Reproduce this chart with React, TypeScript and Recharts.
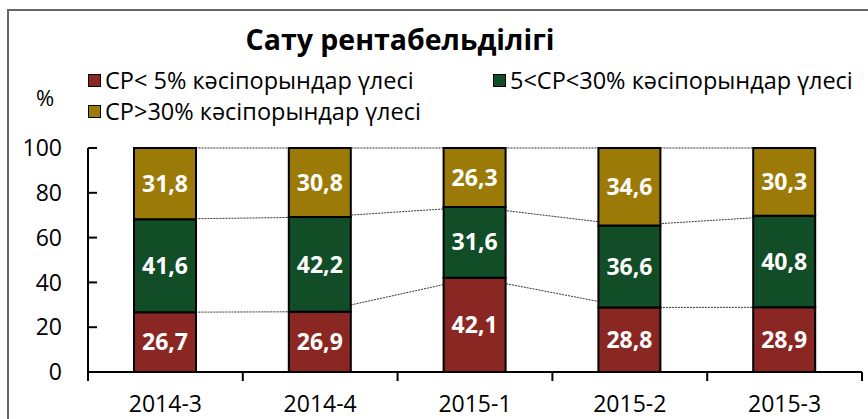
import React from 'react';
import { ComposedChart, Bar, Line, XAxis, YAxis, LabelList, Legend } from 'recharts';

const periods = ['2014-3', '2014-4', '2015-1', '2015-2', '2015-3'];
const lowShare = [26.7, 26.9, 42.1, 28.8, 28.9];
const midShare = [41.6, 42.2, 31.6, 36.6, 40.8];
const highShare = [31.8, 30.8, 26.3, 34.6, 30.3];
const yTicks = [0, 20, 40, 60, 80, 100];

const seriesNames = ['СР< 5% кәсіпорындар үлесі', '5<СР<30% кәсіпорындар үлесі', 'СР>30% кәсіпорындар үлесі'];
const colors = ['#8B2722', '#114D27', '#9C7A07'];

const FONT = '"Open Sans", "Noto Sans", sans-serif';

const data = periods.map((p, i) => ({ period: p, low: lowShare[i], mid: midShare[i], high: highShare[i] }));
const total = (d: any) => d.low + d.mid + d.high;

const fmt = (v: any) => Number(v).toFixed(1).replace('.', ',');

const YTick = ({ x, y, payload }: any) => (
  <g>
    <line x1={x + 26} x2={x + 35} y1={y} y2={y} stroke="#000" strokeWidth={2} />
    <text x={x} y={y} dy="0.36em" textAnchor="end" fontSize={23} fontFamily={FONT} fill="#000">
      {Math.round(payload.value * 100)}
    </text>
  </g>
);

const XTick = ({ x, y, payload, index }: any) => {
  const off = payload.offset || 77.4;
  return (
    <g>
      <line x1={x - off} x2={x - off} y1={y} y2={y + 9} stroke="#000" strokeWidth={2} />
      {index === periods.length - 1 && (
        <line x1={x + off} x2={x + off} y1={y} y2={y + 9} stroke="#000" strokeWidth={2} />
      )}
      <text x={x} y={y + 40} textAnchor="middle" fontSize={23} fontFamily={FONT} fill="#000">
        {payload.value}
      </text>
    </g>
  );
};

const LegendBox = () => (
  <div style={{ fontFamily: FONT, fontSize: 23.5, color: '#000', position: 'relative', height: 70 }}>
    {seriesNames.map((name, i) => (
      <div
        key={name}
        style={{
          position: 'absolute',
          left: i === 1 ? 405 : 0,
          top: i === 2 ? 32 : 1,
          display: 'flex',
          alignItems: 'center',
          whiteSpace: 'nowrap',
          lineHeight: '30px',
        }}
      >
        <span style={{ width: 11, height: 11, background: colors[i], border: '1.5px solid #000', marginRight: 4 }} />
        {name}
      </div>
    ))}
  </div>
);

export default function App() {
  return (
    <div style={{ position: 'absolute', left: 0, top: 0, width: 868, height: 419, overflow: 'hidden', background: '#fff' }}>
      <div style={{ position: 'absolute', left: 7, top: 9, width: 900, height: 500, borderLeft: '2px solid #666', borderTop: '2px solid #666' }} />
      <div style={{ position: 'absolute', left: 0, width: 800, top: 20, textAlign: 'center', fontFamily: FONT, fontWeight: 700, fontSize: 28.5, lineHeight: '38px' }}>
        Сату рентабельділігі
      </div>
      <div style={{ position: 'absolute', left: 36, top: 82, fontFamily: FONT, fontSize: 22 }}>%</div>
      <ComposedChart
        width={868}
        height={419}
        data={data}
        stackOffset="expand"
        margin={{ top: 148, right: 6, bottom: 0, left: 0 }}
        style={{ position: 'absolute', left: 0, top: 0 }}
      >
        <XAxis dataKey="period" height={47} tickSize={0} tickMargin={0} interval={0} tick={<XTick />} tickLine={false} axisLine={{ stroke: '#000', strokeWidth: 2 }} />
        <YAxis type="number" domain={[0, 1]} ticks={yTicks.map(v => v / 100)} width={88} tickSize={0} tickMargin={26} tick={<YTick />} tickLine={false} axisLine={{ stroke: '#000', strokeWidth: 2 }} />
        <Legend
          layout="horizontal"
          verticalAlign="middle"
          align="center"
          content={<LegendBox />}
          wrapperStyle={{ position: 'absolute', top: 64, left: 88, width: 780 }}
        />
        <Line dataKey={(d: any) => d.low / total(d)} stroke="#333" strokeWidth={1} strokeDasharray="2 1" dot={false} activeDot={false} isAnimationActive={false} legendType="none" zIndex={250} />
        <Line dataKey={(d: any) => (d.low + d.mid) / total(d)} stroke="#333" strokeWidth={1} strokeDasharray="2 1" dot={false} activeDot={false} isAnimationActive={false} legendType="none" zIndex={250} />
        <Line dataKey={(d: any) => (d.low + d.mid + d.high) / total(d)} stroke="#333" strokeWidth={1} strokeDasharray="2 1" dot={false} activeDot={false} isAnimationActive={false} legendType="none" zIndex={250} />
        <Bar dataKey="low" stackId="s" fill={colors[0]} stroke="#000" strokeWidth={2} barSize={62} isAnimationActive={false}>
          <LabelList dataKey="low" position="center" formatter={fmt} fill="#fff" fontWeight={700} fontSize={23} fontFamily={FONT} />
        </Bar>
        <Bar dataKey="mid" stackId="s" fill={colors[1]} stroke="#000" strokeWidth={2} barSize={62} isAnimationActive={false}>
          <LabelList dataKey="mid" position="center" formatter={fmt} fill="#fff" fontWeight={700} fontSize={23} fontFamily={FONT} />
        </Bar>
        <Bar dataKey="high" stackId="s" fill={colors[2]} stroke="#000" strokeWidth={2} barSize={62} isAnimationActive={false}>
          <LabelList dataKey="high" position="center" formatter={fmt} fill="#fff" fontWeight={700} fontSize={23} fontFamily={FONT} />
        </Bar>
      </ComposedChart>
    </div>
  );
}
